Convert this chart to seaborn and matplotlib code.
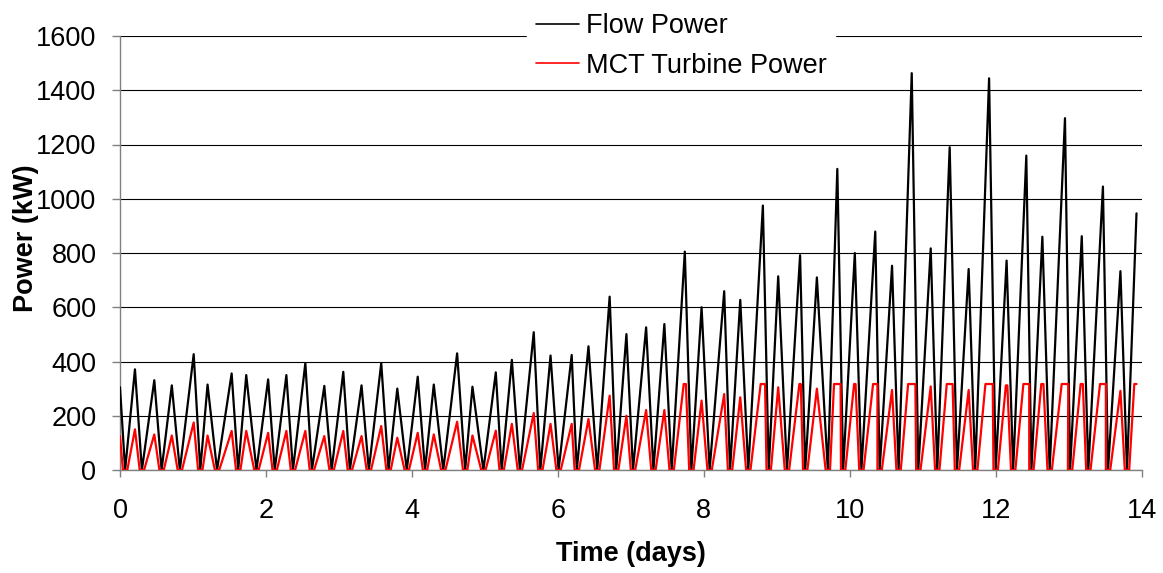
import matplotlib
matplotlib.use("Agg")
import matplotlib.pyplot as plt
import pandas as pd
import seaborn as sns

# ---- data ----
trough_days = [0.07, 0.30, 0.57, 0.82, 1.10, 1.33, 1.62, 1.87, 2.12, 2.37,
               2.63, 2.90, 3.15, 3.41, 3.68, 3.93, 4.18, 4.43, 4.73, 4.98,
               5.23, 5.48, 5.76, 6.01, 6.26, 6.54, 6.80, 7.03, 7.31, 7.56,
               7.83, 8.08, 8.36, 8.61, 8.89, 9.14, 9.39, 9.70, 9.91, 10.16,
               10.41, 10.67, 10.94, 11.20, 11.47, 11.72, 12.00, 12.24, 12.49, 12.74,
               13.02, 13.27, 13.54, 13.80]

peak_days = [0.205, 0.47, 0.71, 1.01, 1.20, 1.53, 1.73, 2.03, 2.28, 2.54,
             2.80, 3.06, 3.31, 3.58, 3.80, 4.08, 4.30, 4.62, 4.83, 5.15,
             5.37, 5.67, 5.90, 6.19, 6.42, 6.71, 6.94, 7.21, 7.46, 7.74,
             7.97, 8.28, 8.50, 8.81, 9.02, 9.32, 9.55, 9.83, 10.07, 10.35,
             10.58, 10.85, 11.11, 11.37, 11.63, 11.91, 12.15, 12.42, 12.64, 12.95,
             13.18, 13.47, 13.71]

flow_peak_kw = [371, 331, 312, 427, 315, 356, 350, 334, 350, 394,
                310, 362, 312, 394, 300, 344, 315, 430, 307, 360,
                406, 508, 422, 424, 456, 639, 501, 526, 538, 805,
                600, 659, 627, 975, 714, 792, 710, 1110, 800, 879,
                753, 1463, 817, 1190, 741, 1444, 772, 1159, 860, 1297,
                862, 1045, 733]

turbine_peak_kw = [150, 131, 127, 175, 127, 144, 144, 137, 144, 144,
                   125, 144, 125, 162, 119, 137, 131, 178, 127, 145,
                   170, 210, 170, 170, 188, 274, 200, 221, 221, 317,
                   256, 280, 268, 317, 305, 317, 300, 317, 317, 317,
                   295, 317, 308, 317, 295, 317, 312, 317, 317, 317,
                   317, 317, 292]

# duration (days) the turbine stays at rated power around each peak
turbine_plateau_days = [0] * 29 + [0.03, 0, 0, 0, 0.06, 0, 0.02, 0, 0.09, 0.02,
                                   0.06, 0, 0.10, 0, 0.08, 0, 0.10, 0.02, 0.08, 0.03,
                                   0.09, 0.03, 0.08, 0]

start_day = 0.0
flow_start_kw = 305
turbine_start_kw = 125
end_day = 13.93
flow_end_kw = 946
turbine_end_rise_day = 13.90
turbine_end_kw = 317

x_ticks = [0, 2, 4, 6, 8, 10, 12, 14]
y_ticks = [0, 200, 400, 600, 800, 1000, 1200, 1400, 1600]
series_labels = ["Flow Power", "MCT Turbine Power"]
x_label = "Time (days)"
y_label = "Power (kW)"

# ---- assemble the traces from the readings ----
flow_t, flow_v = [start_day], [flow_start_kw]
for i, tr in enumerate(trough_days):
    flow_t.append(tr); flow_v.append(0)
    if i < len(peak_days):
        flow_t.append(peak_days[i]); flow_v.append(flow_peak_kw[i])
flow_t.append(end_day); flow_v.append(flow_end_kw)

ZERO_HALF = 0.03  # turbine idle (below cut-in) half-width around slack water
turb_t, turb_v = [start_day], [turbine_start_kw]
for i, tr in enumerate(trough_days):
    turb_t += [tr - ZERO_HALF, tr + ZERO_HALF]; turb_v += [0, 0]
    if i < len(peak_days):
        w = turbine_plateau_days[i]
        if w > 0:
            turb_t += [peak_days[i] - w / 2, peak_days[i] + w / 2]
            turb_v += [turbine_peak_kw[i]] * 2
        else:
            turb_t.append(peak_days[i]); turb_v.append(turbine_peak_kw[i])
turb_t += [turbine_end_rise_day, end_day]; turb_v += [turbine_end_kw] * 2

df_flow = pd.DataFrame({"t": flow_t, "p": flow_v})
df_turb = pd.DataFrame({"t": turb_t, "p": turb_v})

# ---- plotting ----
sns.set_theme(style="white")
plt.rcParams["font.family"] = ["Liberation Sans", "DejaVu Sans"]
plt.rcParams["text.color"] = "black"
plt.rcParams["axes.labelcolor"] = "black"
plt.rcParams["xtick.color"] = "black"
plt.rcParams["ytick.color"] = "black"

W, H = 1163, 573
fig = plt.figure(figsize=(W / 100, H / 100), dpi=100)
x0, x1, y0, y1 = 120, 1141.6, 36, 470
ax = fig.add_axes([x0 / W, 1 - y1 / H, (x1 - x0) / W, (y1 - y0) / H])

sns.lineplot(data=df_flow, x="t", y="p", ax=ax, color="black", linewidth=1.6,
             estimator=None, sort=False, label=series_labels[0], zorder=3)
sns.lineplot(data=df_turb, x="t", y="p", ax=ax, color="#ff0000", linewidth=1.6,
             estimator=None, sort=False, label=series_labels[1], zorder=4)
for ln in ax.get_lines():
    ln.set_linewidth(1.6)
    ln.set_solid_joinstyle("round")

ax.set_xlim(0, 14)
ax.set_ylim(0, 1600)
ax.set_xticks(x_ticks)
ax.set_yticks(y_ticks)
ax.set_xticklabels([str(v) for v in x_ticks])
ax.set_yticklabels([str(v) for v in y_ticks])

ax.yaxis.grid(True, color="black", lw=0.8, zorder=1)
ax.xaxis.grid(False)
ax.set_axisbelow(True)

for s in ["top", "right"]:
    ax.spines[s].set_visible(False)
for s in ["left", "bottom"]:
    ax.spines[s].set_color("#808080")
    ax.spines[s].set_linewidth(1.0)

ax.tick_params(axis="y", which="both", direction="out", left=True, length=6,
               width=1, color="#808080", pad=11, labelsize=19.5, labelcolor="black")
ax.tick_params(axis="x", which="both", direction="out", bottom=True, length=5,
               width=1, color="#808080", pad=15, labelsize=19.5, labelcolor="black")

ax.set_xlabel(x_label, fontsize=19.5, fontweight="bold", color="black")
ax.set_ylabel(y_label, fontsize=19.5, fontweight="bold", color="black")
ax.xaxis.set_label_coords(0.5, (470 - 541) / 434)
ax.yaxis.set_label_coords((39 - 120) / (x1 - x0), 0.535)

handles, labels = ax.get_legend_handles_labels()
leg = ax.legend(handles, labels, loc="center",
                bbox_to_anchor=(681 / W, 1 - 46 / H), bbox_transform=fig.transFigure,
                frameon=True, facecolor="white", edgecolor="white", framealpha=1,
                fancybox=False, fontsize=19.5, handlelength=1.6, handletextpad=0.25,
                labelspacing=0.5, borderpad=0.3)
leg.set_zorder(10)
for txt in leg.get_texts():
    txt.set_color("black")
for line in leg.get_lines():
    line.set_linewidth(1.2)

fig.savefig("out.png", dpi=100)
